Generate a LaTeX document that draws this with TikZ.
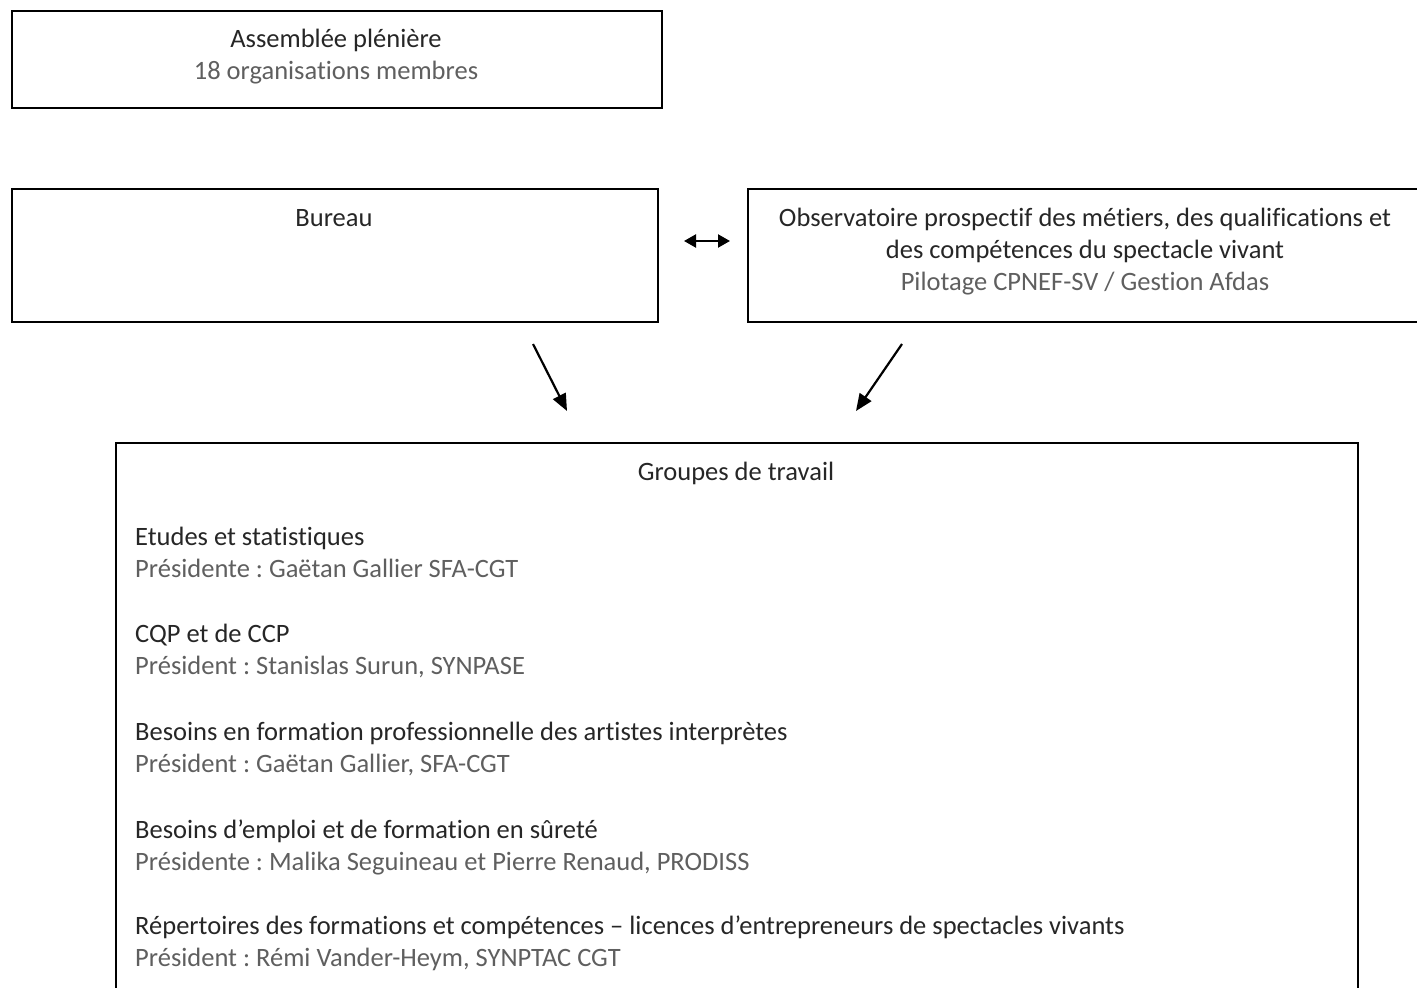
\documentclass[tikz,border=0pt]{standalone}
\usepackage{fontspec}
\setmainfont{Carlito}[Ligatures={NoCommon}]
\usetikzlibrary{arrows.meta}
\definecolor{headc}{HTML}{262626}
\definecolor{subc}{HTML}{5F5F5F}
\frenchspacing
\tikzset{
  x=1pt, y=-1pt,
  box/.style={draw=black, line width=1.8pt, rectangle, anchor=north west, inner sep=0pt},
  head/.style={font=\fontsize{26.5}{32}\selectfont, text=headc, inner sep=0pt, anchor=base},
  sub/.style={font=\fontsize{26.5}{32}\selectfont, text=subc, inner sep=0pt, anchor=base},
  headl/.style={head, anchor=base west},
  subl/.style={sub, anchor=base west},
  arr/.style={line width=2.2pt, -{Triangle[length=17pt,width=14pt]}},
  darr/.style={line width=2.2pt, {Triangle[length=12pt,width=13pt]}-{Triangle[length=12pt,width=13pt]}}
}
\begin{document}
\begin{tikzpicture}
\useasboundingbox (0,0) rectangle (1417,988);
\clip (0,0) rectangle (1417,988);
% boxes
\node[box, minimum width=650pt, minimum height=97pt] (ap) at (11,10) {};
\node[box, minimum width=646pt, minimum height=133pt] (bu) at (11,188) {};
\node[box, minimum width=680pt, minimum height=133pt] (ob) at (747,188) {};
\node[box, minimum width=1242pt, minimum height=570pt] (gt) at (115,442) {};
% texts
\node[head] (t1) at (336,47) {Assemblée plénière};
\node[sub] (t2) at (336,79) {18 organisations membres};
\node[head] (t3) at (334,226) {Bureau};
\node[head] (t4) at (1085,226) {Observatoire prospectif des métiers, des qualifications et};
\node[head] (t5) at (1085,258) {des compétences du spectacle vivant};
\node[sub] (t6) at (1085,290) {Pilotage CPNEF-SV / Gestion Afdas};
\node[head] (t7) at (736,480) {Groupes de travail};
\node[headl] (g1) at (135,545) {Etudes et statistiques};
\node[subl] (s1) at (135,577) {Présidente : Gaëtan Gallier SFA-CGT};
\node[headl] (g2) at (135,642) {CQP et de CCP};
\node[subl] (s2) at (135,674) {Président : Stanislas Surun, SYNPASE};
\node[headl] (g3) at (135,740) {Besoins en formation professionnelle des artistes interprètes};
\node[subl] (s3) at (135,772) {Président : Gaëtan Gallier, SFA-CGT};
\node[headl] (g4) at (135,838) {Besoins d’emploi et de formation en sûreté};
\node[subl] (s4) at (135,870) {Présidente : Malika Seguineau et Pierre Renaud, PRODISS};
\node[headl] (g5) at (135,934) {Répertoires des formations et compétences – licences d’entrepreneurs de spectacles vivants};
\node[subl] (s5) at (135,966) {Président : Rémi Vander-Heym, SYNPTAC CGT};
% connectors
\coordinate (d1) at (684,241);
\coordinate (d2) at (730,241);
\draw[darr] (d1) -- (d2);
\coordinate (a1s) at (533,344);
\coordinate (a1e) at (567,411);
\coordinate (a2s) at (902,344);
\coordinate (a2e) at (856,411);
\draw[arr] (a1s) -- (a1e);
\draw[arr] (a2s) -- (a2e);
\end{tikzpicture}
\end{document}
